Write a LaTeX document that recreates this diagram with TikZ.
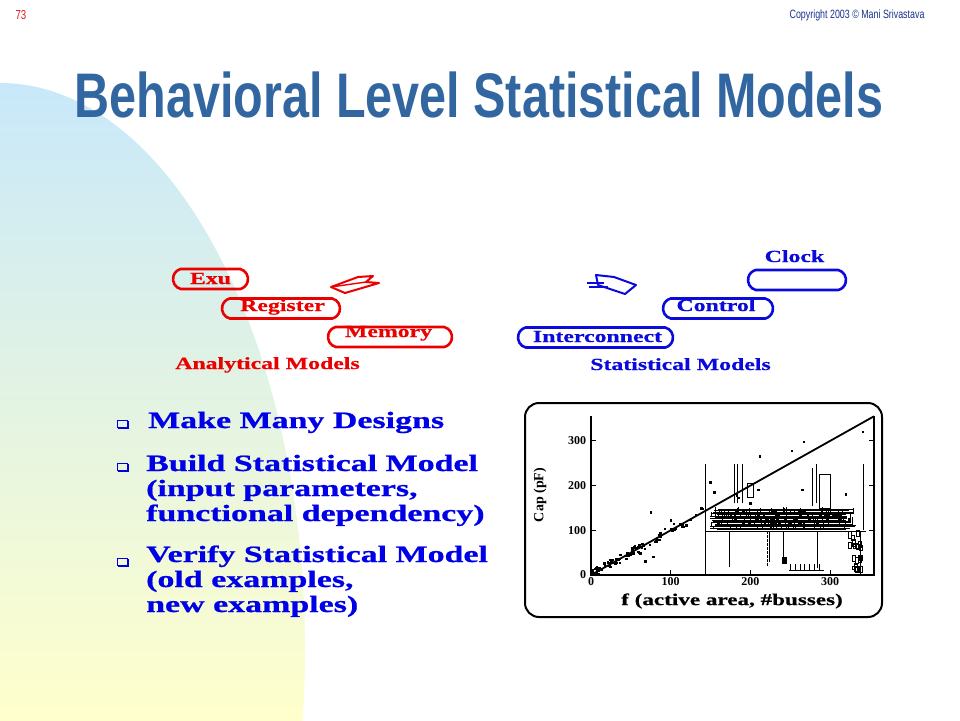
\documentclass[tikz,border=0pt]{standalone}
\usepackage{fontspec}
\setmainfont{Liberation Serif}
\newfontfamily\titlefont{Liberation Sans}[FakeStretch=0.77]
\newfontfamily\copyfont{Liberation Sans}[FakeStretch=0.74]
\newfontfamily\wideserif{Liberation Serif}[FakeStretch=1.4, FakeBold=0.6]
\newfontfamily\bulletfont{Liberation Serif}[FakeStretch=1.45, FakeBold=0.8]
\usetikzlibrary{shapes.misc, positioning}

\definecolor{titleblue}{RGB}{50,102,160}
\definecolor{bulletblue}{RGB}{0,0,230}
\definecolor{modelred}{RGB}{235,0,0}
\definecolor{modelblue}{RGB}{10,10,220}
\definecolor{copyblue}{RGB}{25,50,140}
\definecolor{pagered}{RGB}{220,30,30}
\definecolor{bgblue}{RGB}{200,232,250}
\definecolor{bgmid}{RGB}{232,242,222}
\definecolor{bgyellow}{RGB}{255,255,204}

\tikzset{
  oval/.style={rounded rectangle, rounded rectangle arc length=150, line width=2.6pt,
    inner sep=0pt, minimum height=20pt},
  redoval/.style={oval, draw=modelred},
  blueoval/.style={oval, draw=modelblue},
  ovallabel/.style={inner sep=0pt, anchor=base, font=\wideserif\bfseries\fontsize{17}{17}\selectfont},
  bullettext/.style={inner sep=0pt, anchor=base west, align=left, text=bulletblue,
    font=\bulletfont\bfseries\fontsize{23.4}{25}\selectfont},
  ticklabel/.style={inner sep=0pt, font=\bfseries\fontsize{12}{12}\selectfont},
}

\begin{document}
\begin{tikzpicture}[x=1pt, y=-1pt]
    \useasboundingbox (0,0) rectangle (960,720);

    % background
    \begin{scope}
        \clip (0,650) ellipse [x radius=305, y radius=567];
        \shade[top color=bgblue, middle color=bgmid, bottom color=bgyellow] (0,83) rectangle (306,720);
    \end{scope}

    % header
    \node[anchor=base west, text=pagered, font=\copyfont\fontsize{13}{13}\selectfont] (pagenum) at (12,19) {73};
    \node[anchor=base east, text=copyblue, font=\copyfont\fontsize{12}{12}\selectfont] (copyright) at (928,18) {Copyright 2003 \textcopyright\ Mani Srivastava};
    \node[anchor=base, text=titleblue, font=\titlefont\bfseries\fontsize{63}{63}\selectfont] (title) at (479,117) {Behavioral Level Statistical Models};

    % analytical models
    \node[redoval, minimum width=75pt] (exu) at (210.5,279) {};
    \node[ovallabel, text=modelred] at ([yshift=-5pt]exu.center) {Exu};
    \node[redoval, minimum width=118pt] (reg) at (281,308.5) {};
    \node[ovallabel, text=modelred] at ([xshift=1.5pt, yshift=-2.5pt]reg.center) {Register};
    \node[redoval, minimum width=124pt] (mem) at (390,337) {};
    \node[ovallabel, text=modelred] at ([xshift=-1.5pt]mem.center) {Memory};
    \node[ovallabel, text=modelred] (analytical) at (267.5,369) {Analytical Models};
    \draw[modelred, line width=2pt, line join=round] (331,287) -- (358,277) -- (373,276) -- (366,282) -- (379,283) -- (345,293) -- cycle;
    \draw[modelred, line width=1.4pt] (331,287) -- (366,282);

    % statistical models
    \node[blueoval, minimum width=98pt] (clock) at (797,280) {};
    \node[ovallabel, text=modelblue] at ([xshift=-2.5pt, yshift=18pt]clock.center) {Clock};
    \node[blueoval, minimum width=110pt] (control) at (718,308.5) {};
    \node[ovallabel, text=modelblue] at ([xshift=-2pt, yshift=-2.5pt]control.center) {Control};
    \node[blueoval, minimum width=155pt] (inter) at (595.5,337.5) {};
    \node[ovallabel, text=modelblue] at ([xshift=2pt, yshift=-4.5pt]inter.center) {Interconnect};
    \node[ovallabel, text=modelblue] (statistical) at (680.5,370) {Statistical Models};
    \draw[modelblue, line width=2pt, line join=round] (596,275) -- (614,277) -- (636,285) -- (625,294) -- (598,285) -- cycle;
    \draw[modelblue, line width=1.4pt] (587,283) -- (604,283);
    \draw[modelblue, line width=1.4pt] (589,287) -- (608,287);

    % bullets
    \foreach \y in {424, 467, 562} {
        \draw[bulletblue, line width=0.8pt] (117,{\y-4}) rectangle (127,{\y+3});
        \draw[bulletblue, line width=1.8pt] (118,{\y+4}) -- (128,{\y+4}) -- (128,{\y-3});
    }
    \node[bullettext] (make) at (148,428) {Make Many Designs};
    \node[bullettext] (build) at (146,521) {Build Statistical Model\\(input parameters,\\functional dependency)};
    \node[bullettext] (verify) at (146,612) {Verify Statistical Model\\(old examples,\\new examples)};

    % plot frame
    \node[draw, line width=2pt, rounded corners=14pt, minimum width=357pt, minimum height=214pt] (frame) at (703.5,510) {};
    \node[rotate=90, font=\bfseries\fontsize{14}{14}\selectfont] (ylabel) at (540,495) {Cap (pF)};
    \node[font=\wideserif\bfseries\fontsize{16.5}{16.5}\selectfont] (xlabel) at (732,601) {f (active area, \#busses)};

    \begin{scope}[shift={(591,575)}, x=0.797pt, y=0.447pt]
        \coordinate (origin) at (0,0);
        \coordinate (fitend) at (355,355);
        \pgfmathsetseed{7}

        % clutter of boxes on the right
        \draw[line width=0.9pt] (143,0) -- (143,248);
        \draw (143,98) -- (345,98);
        \draw (341,100) -- (341,248);
        \draw (338,0) -- (338,98);
        \foreach \h in {102,105,...,148} {
            \pgfmathsetmacro\xa{148+12*rnd}
            \pgfmathsetmacro\xb{318+15*rnd}
            \draw[line width=0.6pt] (\xa,\h) -- (\xb,\h);
        }
        \foreach \i in {1,...,180} {
            \pgfmathsetmacro\xa{150+180*rnd}
            \pgfmathsetmacro\ya{100+42*rnd}
            \draw[line width=0.6pt] (\xa,\ya) -- ++(0,{4+10*rnd});
        }
        \foreach \i in {1,...,60} {
            \pgfmathsetmacro\xa{175+150*rnd}
            \pgfmathsetmacro\ya{108+32*rnd}
            \fill (\xa,\ya) rectangle ++(3pt,2.5pt);
        }
        \draw (174,17) -- (174,98);
        \draw[dash pattern=on 3pt off 1pt] (221,20) -- (221,98);
        \draw (224,30) -- (224,98);
        \draw (241,40) -- (241,98);
        \draw (284,15) -- (284,98);
        \fill (240,25) rectangle (246,40);
        \draw (248,10) -- (292,10);
        \foreach \x in {250,256,...,290} {
            \draw (\x,10) -- (\x,24);
        }
        \foreach \x in {180,184,190} {
            \draw (\x,160) -- (\x,248);
        }
        \draw (196,175) rectangle (203,205);
        \draw (278,155) -- (278,240);
        \draw (283,160) -- (283,248);
        \draw (286,150) rectangle (300,225);
        \foreach \i in {1,...,20} {
            \pgfmathsetmacro\xa{322+16*rnd}
            \pgfmathsetmacro\ya{5+90*rnd}
            \draw (\xa,\ya) rectangle ++(3pt,{6+12*rnd});
        }

        % axes
        \draw[line width=1.5pt] (0,355) -- (origin) -- (355,0) -- (355,355);
        \foreach \t in {100,200,300} {
            \draw[line width=1pt] (\t,0) -- ++(0,5pt);
            \draw[line width=1pt] (0,\t) -- ++(5pt,0);
            \draw[line width=1pt] (355,\t) -- ++(-5pt,0);
        }
        \foreach \t in {0,100,200,300} {
            \node[ticklabel, anchor=north] at (\t,-5) {\t};
            \node[ticklabel, anchor=east] at (-6,\t) {\t};
        }

        % fit line and samples
        \draw[line width=1.8pt] (origin) -- (fitend);
        \foreach \i in {1,...,90} {
            \pgfmathsetmacro\px{140*rnd^1.6}
            \pgfmathsetmacro\py{max(0,\px+10*rand)}
            \fill (\px,\py) ++(-1pt,-1pt) rectangle ++(2.4pt,2.4pt);
        }
        \foreach \px/\py in {75/140, 150/207, 212/265, 252/277, 267/297, 341/320, 185/172, 200/160,
                              68/30, 78/40, 100/122, 120/110, 62/48, 210/190, 265/190, 320/180, 155/185, 183/178} {
            \fill (\px,\py) ++(-1.2pt,-1.2pt) rectangle ++(2.6pt,2.6pt);
        }
    \end{scope}
\end{tikzpicture}
\end{document}
